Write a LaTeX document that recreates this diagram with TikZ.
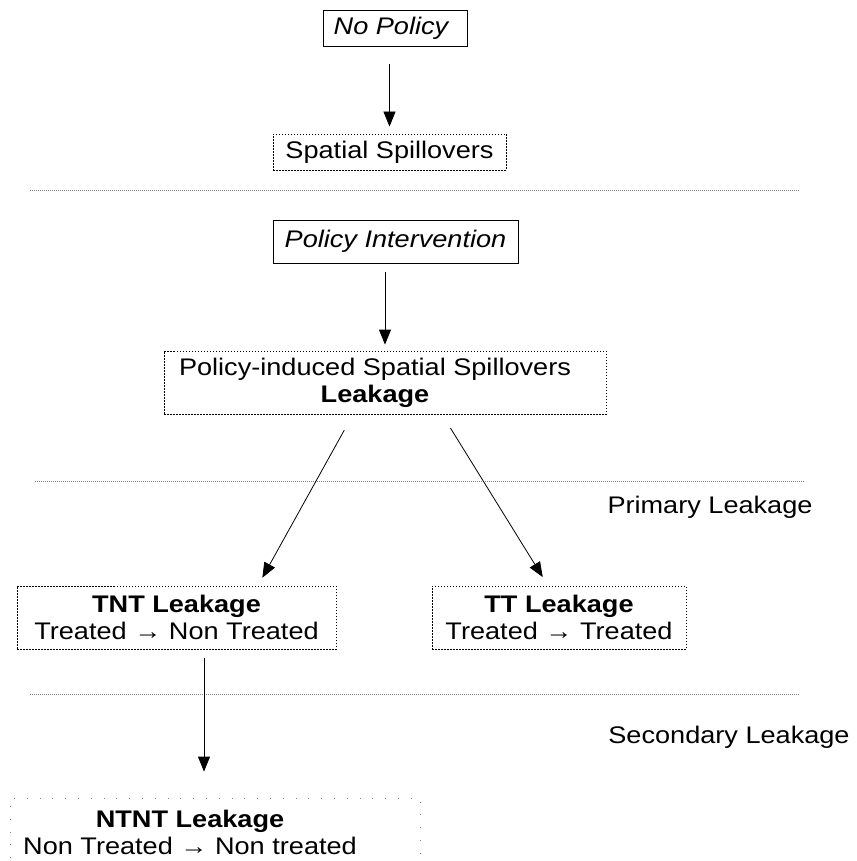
\documentclass[tikz,border=0pt]{standalone}
\usepackage{fontspec}
\setmainfont[FakeStretch=1.13]{Liberation Sans}
\usetikzlibrary{arrows.meta}

\begin{document}
\begin{tikzpicture}[x=1pt, y=-1pt,
        font=\fontsize{24}{27}\selectfont,
        solidbox/.style={draw, line width=0.8pt, inner sep=0pt, align=center},
        dotbox/.style={draw, line width=0.8pt, dash pattern=on 1.5pt off 1.5pt, inner sep=0pt, align=center},
        loosebox/.style={draw=gray, line width=0.8pt, dash pattern=on 0.8pt off 12pt, inner sep=0pt, align=center},
        sepline/.style={gray, line width=0.8pt, dash pattern=on 1pt off 1pt},
        arr/.style={line width=0.8pt, -{Triangle[length=15pt, width=12pt]}}]
        \useasboundingbox (0, 0) rectangle (856, 861);

        % upper part: no policy
        \node[solidbox, minimum width=144pt, minimum height=36pt] (nopol) at (395, 28) {\itshape No Policy\hspace*{8pt}};
        \node[dotbox, minimum width=233pt, minimum height=36pt] (spill) at (389.5, 152) {Spatial Spillovers};
        \draw[arr, shorten <=18pt, shorten >=7pt] (spill.north |- nopol.south) -- (spill.north);

        \draw[sepline] (30, 190) -- (800, 190);

        % policy part
        \node[solidbox, minimum width=245pt, minimum height=43pt] (polint) at (395.5, 241.5) {\itshape Policy Intervention};
        \node[dotbox, minimum width=442pt, minimum height=63pt] (pis) at (385, 382.5) {Policy-induced Spatial Spillovers\hspace*{20pt}\\ \textbf{Leakage}\hspace*{20pt}};
        \draw[arr, shorten <=9pt, shorten >=6pt] (pis.north |- polint.south) -- (pis.north);

        \draw[sepline] (35, 481) -- (805, 481);
        \node[anchor=base] (prim) at (710, 513) {Primary Leakage};

        \node[dotbox, minimum width=319pt, minimum height=63pt] (tnt) at (176.5, 617.5) {\textbf{TNT Leakage}\\ Treated → Non Treated};
        \node[dotbox, minimum width=254pt, minimum height=63pt] (tt) at (559, 617.5) {\textbf{TT Leakage}\\ Treated → Treated};
        \draw[arr, shorten <=18pt, shorten >=9pt] ([xshift=-32pt]pis.south) -- ([xshift=81.5pt]tnt.north);
        \draw[arr, shorten <=16pt, shorten >=10pt] ([xshift=57pt]pis.south) -- ([xshift=-11pt]tt.north);

        \draw[sepline] (30, 694) -- (800, 694);
        \node[anchor=base] (second) at (729, 743) {Secondary Leakage};

        \node[loosebox, minimum width=410pt, minimum height=68pt] (ntnt) at (215, 832) {\textbf{NTNT Leakage}\hspace*{50pt}\\ Non Treated → Non treated\hspace*{50pt}};
        \draw[arr, shorten <=9pt, shorten >=26pt] ([xshift=27.5pt]tnt.south) -- ([xshift=27.5pt]tnt.south |- ntnt.north);
    \end{tikzpicture}
\end{document}
